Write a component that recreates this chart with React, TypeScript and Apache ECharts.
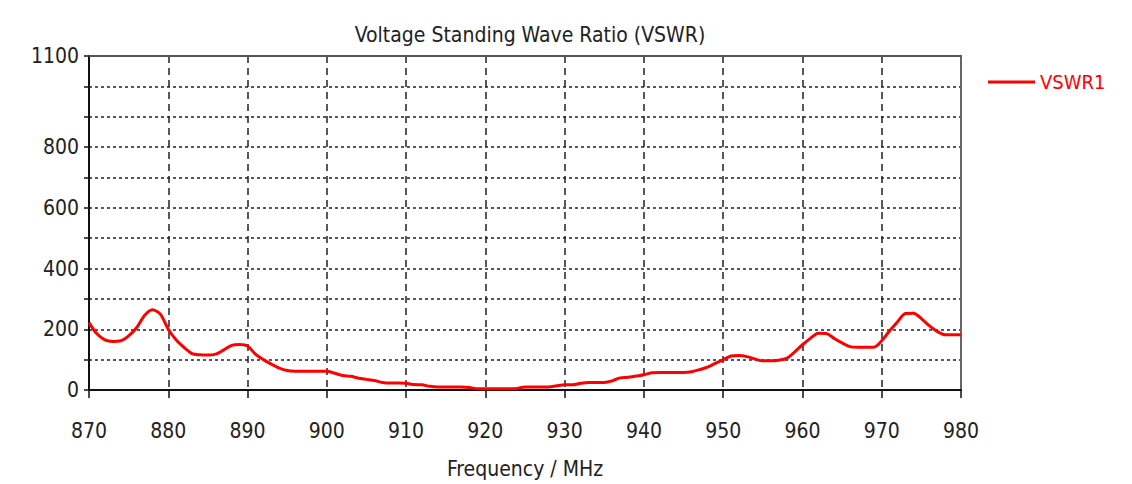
import React, { useEffect, useRef } from "react";
import * as echarts from "echarts";

const freqs: number[] = [
  870, 871, 872, 873, 874, 875, 876, 877, 878, 879, 880, 881, 882, 883, 884, 885, 886, 887, 888, 889,
  890, 891, 892, 893, 894, 895, 896, 897, 898, 899, 900, 901, 902, 903, 904, 905, 906, 907, 908, 909,
  910, 911, 912, 913, 914, 915, 916, 917, 918, 919, 920, 921, 922, 923, 924, 925, 926, 927, 928, 929,
  930, 931, 932, 933, 934, 935, 936, 937, 938, 939, 940, 941, 942, 943, 944, 945, 946, 947, 948, 949,
  950, 951, 952, 953, 954, 955, 956, 957, 958, 959, 960, 961, 962, 963, 964, 965, 966, 967, 968, 969,
  970, 971, 972, 973, 974, 975, 976, 977, 978, 979, 980,
];

const vswr1: number[] = [
  222, 185, 165, 160, 162, 178, 205, 245, 264, 250, 200, 165, 140, 120, 116, 115, 118, 132, 147, 150,
  145, 118, 100, 85, 72, 64, 62, 62, 62, 62, 62, 55, 48, 45, 39, 35, 31, 25, 23, 23,
  22, 18, 17, 12, 10, 10, 10, 10, 8, 4, 4, 4, 4, 4, 5, 10, 10, 10, 10, 14,
  17, 17, 22, 25, 25, 25, 30, 40, 42, 46, 50, 57, 58, 58, 58, 58, 60, 67, 75, 88,
  100, 112, 114, 110, 102, 96, 96, 98, 104, 125, 149, 170, 187, 186, 170, 155, 143, 141, 141, 141,
  162, 195, 225, 252, 253, 235, 212, 193, 182, 182, 182,
];

const yLabelValues: number[] = [0, 200, 400, 600, 800, 1100];

const FONT = "'Liberation Sans Narrow', 'DejaVu Sans Condensed', 'Liberation Sans', sans-serif";

export default function App() {
  const ref = useRef<HTMLDivElement>(null);
  useEffect(() => {
    if (!ref.current) return;
    const chart = echarts.init(ref.current, null, { renderer: "svg" });
    const data = freqs.map((f, i) => [f, vswr1[i]]);
    chart.setOption({
      animation: false,
      backgroundColor: "#ffffff",
      title: {
        text: "Voltage Standing Wave Ratio (VSWR)",
        left: 525,
        textAlign: "center",
        top: 19,
        textStyle: { fontFamily: FONT, fontSize: 21, fontWeight: "normal", color: "#222" },
      },
      legend: {
        left: 983,
        top: 67,
        icon: "rect",
        itemWidth: 47,
        itemHeight: 3,
        itemGap: 8,
        textStyle: { fontFamily: FONT, fontSize: 20, color: "#ff0000" },
        data: ["VSWR1"],
      },
      grid: { left: 89, right: 171, top: 56, bottom: 92 },
      xAxis: [
        {
          type: "value",
          min: 870,
          max: 980,
          interval: 10,
          name: "Frequency / MHz",
          nameLocation: "middle",
          nameGap: 68,
          nameTextStyle: { fontFamily: FONT, fontSize: 21, color: "#222" },
          axisLine: { show: true, onZero: false, lineStyle: { color: "#111", width: 2 } },
          axisTick: { show: true, length: 8, lineStyle: { color: "#111", width: 1.5 } },
          axisLabel: { fontFamily: FONT, fontSize: 21, color: "#222", margin: 30 },
          splitLine: {
            show: true,
            showMinLine: false,
            showMaxLine: false,
            lineStyle: { color: "#222", type: [7, 5], width: 1.5 },
          },
        },
        {
          type: "value",
          position: "top",
          min: 870,
          max: 980,
          interval: 10,
          axisLine: { show: true, onZero: false, lineStyle: { color: "#555", width: 2 } },
          axisTick: { show: false },
          axisLabel: { show: false },
          splitLine: { show: false },
        },
      ],
      yAxis: [
        {
          type: "value",
          min: 0,
          max: 1100,
          interval: 100,
          axisLine: { show: true, onZero: false, lineStyle: { color: "#111", width: 2 } },
          axisTick: { show: true, length: 5, inside: false, lineStyle: { color: "#111", width: 1.5 } },
          axisLabel: {
            fontFamily: FONT,
            fontSize: 21,
            color: "#222",
            margin: 10,
            formatter: (v: number) => (yLabelValues.indexOf(v) >= 0 ? String(v) : ""),
          },
          splitLine: {
            show: true,
            showMinLine: false,
            showMaxLine: false,
            lineStyle: { color: "#222", type: [3, 3], width: 1.5 },
          },
        },
        {
          type: "value",
          position: "right",
          min: 0,
          max: 1100,
          interval: 100,
          axisLine: { show: true, onZero: false, lineStyle: { color: "#666", width: 2 } },
          axisTick: { show: false },
          axisLabel: { show: false },
          splitLine: { show: false },
        },
      ],
      series: [
        {
          name: "VSWR1",
          type: "line",
          data,
          smooth: 0.3,
          showSymbol: false,
          symbol: "none",
          itemStyle: { color: "#ff0000" },
          lineStyle: { color: "#ff0000", width: 3 },
        },
      ],
    });
    return () => chart.dispose();
  }, []);
  return (
    <div
      ref={ref}
      style={{ position: "fixed", left: 0, top: 0, width: 1132, height: 484 }}
    />
  );
}
